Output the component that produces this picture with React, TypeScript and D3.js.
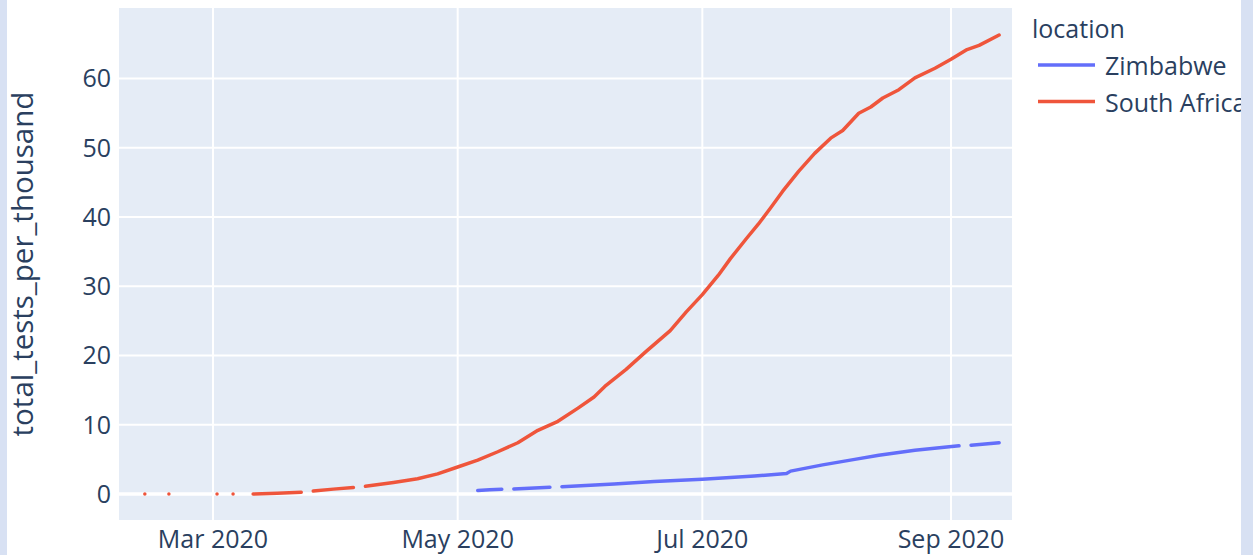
import { scaleLinear, scaleUtc, line } from "d3";

// South Africa, total tests per thousand (null = no data, breaks the line)
const saDates = [
    "2020-02-13", "2020-02-14", "2020-02-19", "2020-02-20", "2020-03-02", "2020-03-03",
    "2020-03-06", "2020-03-07", "2020-03-11", "2020-03-17", "2020-03-23", "2020-03-24",
    "2020-03-26", "2020-03-31", "2020-04-05", "2020-04-06", "2020-04-08", "2020-04-15",
    "2020-04-21", "2020-04-26", "2020-05-01", "2020-05-06", "2020-05-11", "2020-05-16",
    "2020-05-21", "2020-05-26", "2020-05-31", "2020-06-04", "2020-06-07", "2020-06-12",
    "2020-06-17", "2020-06-23", "2020-06-27", "2020-07-01", "2020-07-05", "2020-07-08",
    "2020-07-12", "2020-07-15", "2020-07-18", "2020-07-21", "2020-07-25", "2020-07-29",
    "2020-08-02", "2020-08-05", "2020-08-09", "2020-08-12", "2020-08-15", "2020-08-19",
    "2020-08-23", "2020-08-28", "2020-09-01", "2020-09-05", "2020-09-08", "2020-09-13",
];
const saValues = [
    0, null, 0, null, 0, null,
    0, null, 0.0, 0.1, 0.25, null,
    0.43, 0.7, 0.95, null, 1.1, 1.65,
    2.2, 2.9, 3.9, 4.9, 6.1, 7.4,
    9.2, 10.5, 12.4, 14.0, 15.7, 18.0,
    20.6, 23.6, 26.3, 28.8, 31.6, 34.0,
    36.9, 39.0, 41.3, 43.7, 46.6, 49.2,
    51.4, 52.5, 55.0, 55.9, 57.2, 58.4,
    60.1, 61.5, 62.8, 64.2, 64.8, 66.3,
];

// Zimbabwe
const zwDates = [
    "2020-05-06", "2020-05-09", "2020-05-12", "2020-05-13", "2020-05-15", "2020-05-24",
    "2020-05-25", "2020-05-27", "2020-06-09", "2020-06-19", "2020-07-01", "2020-07-14",
    "2020-07-22", "2020-07-23", "2020-07-31", "2020-08-08", "2020-08-14", "2020-08-23",
    "2020-09-03", "2020-09-04", "2020-09-06", "2020-09-13",
];
const zwValues = [
    0.5, 0.6, 0.68, null, 0.72, 0.97,
    null, 1.05, 1.45, 1.8, 2.12, 2.6,
    2.95, 3.3, 4.2, 5.0, 5.6, 6.3,
    6.95, null, 7.05, 7.4,
];

const yTicks = [0, 10, 20, 30, 40, 50, 60];
const xTicks = ["2020-03-01", "2020-05-01", "2020-07-01", "2020-09-01"];
const xTickLabels = ["Mar 2020", "May 2020", "Jul 2020", "Sep 2020"];

const series = [
    { name: "Zimbabwe", color: "#636efa", dates: zwDates, values: zwValues },
    { name: "South Africa", color: "#EF553B", dates: saDates, values: saValues },
];

const FONT = "'Open Sans', sans-serif";
const TEXT = "#2a3f5f";

const App: React.FC = () => {
    const width = 1253;
    const height = 555;
    const plot = { left: 119, right: 1012, top: 8, bottom: 520 };

    const scaleX = scaleUtc()
        .domain([new Date(Date.UTC(2020, 1, 6, 13, 26)), new Date(Date.UTC(2020, 8, 16, 5))])
        .range([plot.left, plot.right]);

    const scaleY = scaleLinear()
        .domain([-3.76, 70.2])
        .range([plot.bottom, plot.top]);

    const pathFor = (dates: string[], values: (number | null)[]) => {
        const pts = dates.map((d, i) => ({ date: new Date(d + "T00:00:00Z"), value: values[i] }));
        return line<{ date: Date; value: number | null }>()
            .defined((p) => p.value !== null)
            .x((p) => scaleX(p.date))
            .y((p) => scaleY(p.value as number))(pts) ?? "";
    };

    return (
        <svg width={width} height={height}
            style={{ position: "absolute", left: 0, top: 0, background: "#fff" }}
            fontFamily={FONT}
        >
            <defs>
                <clipPath id="plot-clip">
                    <rect x={plot.left} y={plot.top} width={plot.right - plot.left} height={plot.bottom - plot.top} />
                </clipPath>
            </defs>

            <rect x={plot.left} y={plot.top} width={plot.right - plot.left} height={plot.bottom - plot.top} fill="#E5ECF6" />

            {/* grid */}
            {xTicks.map((t) => (
                <line key={`gx-${t}`} x1={scaleX(new Date(t + "T00:00:00Z"))} x2={scaleX(new Date(t + "T00:00:00Z"))}
                    y1={plot.top} y2={plot.bottom} stroke="#fff" strokeWidth={2} />
            ))}
            {yTicks.map((t) => (
                <line key={`gy-${t}`} x1={plot.left} x2={plot.right} y1={scaleY(t)} y2={scaleY(t)}
                    stroke="#fff" strokeWidth={t === 0 ? 3.5 : 2} />
            ))}

            {/* tick labels */}
            {yTicks.map((t) => (
                <text key={`ty-${t}`} x={111} y={scaleY(t) + 8.8} textAnchor="end" fontSize={25} fill={TEXT}>{t}</text>
            ))}
            {xTicks.map((t, i) => (
                <text key={`tx-${t}`} x={scaleX(new Date(t + "T00:00:00Z"))} y={548} textAnchor="middle" fontSize={25} fill={TEXT}>
                    {xTickLabels[i]}
                </text>
            ))}

            <text transform={`translate(33, ${(plot.top + plot.bottom) / 2}) rotate(-90)`} textAnchor="middle" fontSize={29.5} fill={TEXT}>
                total_tests_per_thousand
            </text>

            {/* lines */}
            <g clipPath="url(#plot-clip)">
                {series.map((s) => (
                    <path key={s.name} d={pathFor(s.dates, s.values)} fill="none" stroke={s.color}
                        strokeWidth={3.5} strokeLinecap="round" strokeLinejoin="round" />
                ))}
            </g>

            {/* legend */}
            <text x={1032} y={38} fontSize={25} fill={TEXT}>location</text>
            {series.map((s, i) => (
                <g key={`lg-${s.name}`} transform={`translate(0, ${i * 36.5})`}>
                    <line x1={1038} x2={1095} y1={65} y2={65} stroke={s.color} strokeWidth={3.5} />
                    <text x={1105} y={75} fontSize={25} fill={TEXT}>{s.name}</text>
                </g>
            ))}

            {/* page side strips */}
            <rect x={0} y={0} width={7} height={height} fill="#d8e1f3" />
            <rect x={1241} y={0} width={12} height={height} fill="#d8e1f3" />
        </svg>
    );
};

export default App;
